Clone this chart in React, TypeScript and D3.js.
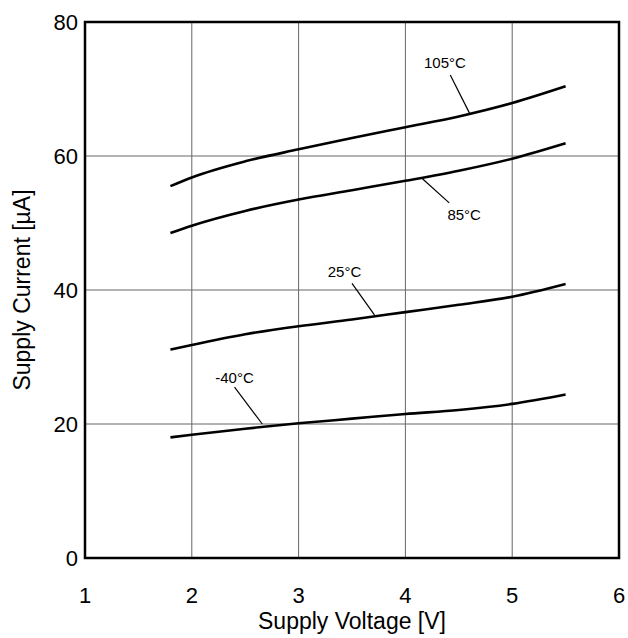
import React from "react";
import * as d3 from "d3";

const voltages = [1.8, 2, 2.5, 3, 3.5, 4, 4.5, 5, 5.5];
const series105 = [55.5, 56.8, 59.2, 61.0, 62.7, 64.3, 65.9, 67.9, 70.4];
const series85 = [48.5, 49.6, 51.8, 53.5, 54.9, 56.3, 57.8, 59.6, 61.9];
const series25 = [31.1, 31.8, 33.4, 34.6, 35.6, 36.7, 37.8, 39.0, 40.9];
const seriesM40 = [18.0, 18.4, 19.3, 20.1, 20.8, 21.5, 22.1, 23.0, 24.4];
const seriesNames = ["105°C", "85°C", "25°C", "-40°C"];
const xTicks = [1, 2, 3, 4, 5, 6];
const yTicks = [0, 20, 40, 60, 80];
// annotation: label at (lx, ly), leader from (ax1, ay1) to (ax2, ay2), in data units
const annotations = [
  { name: "105°C", lx: 4.37, ly: 73.9, ax1: 4.42, ay1: 72.1, ax2: 4.6, ay2: 66.4 },
  { name: "85°C", lx: 4.55, ly: 51.2, ax1: 4.16, ay1: 56.6, ax2: 4.41, ay2: 53.0 },
  { name: "25°C", lx: 3.43, ly: 42.7, ax1: 3.5, ay1: 41.0, ax2: 3.71, ay2: 36.3 },
  { name: "-40°C", lx: 2.4, ly: 26.9, ax1: 2.4, ay1: 25.5, ax2: 2.66, ay2: 20.0 },
];

const W = 628, H = 638;
const L = 85, R = 619, T = 22, B = 558;

export default function App() {
  const x = d3.scaleLinear().domain([1, 6]).range([L, R]);
  const y = d3.scaleLinear().domain([0, 80]).range([B, T]);
  const allSeries = [series105, series85, series25, seriesM40];
  const line = d3
    .line<number>()
    .x((_, i) => x(voltages[i]))
    .y((d) => y(d))
    .curve(d3.curveMonotoneX);
  const font = "'Liberation Sans', Arial, Helvetica, sans-serif";
  return (
    <svg
      width={W}
      height={H}
      style={{ position: "absolute", left: 0, top: 0, background: "#fff" }}
      fontFamily={font}
    >
      <rect x={0} y={0} width={W} height={H} fill="#fff" />
      {xTicks.slice(1, -1).map((t) => (
        <line key={"gx" + t} x1={x(t)} x2={x(t)} y1={T} y2={B} stroke="#666" strokeWidth={1} />
      ))}
      {yTicks.slice(1, -1).map((t) => (
        <line key={"gy" + t} x1={L} x2={R} y1={y(t)} y2={y(t)} stroke="#666" strokeWidth={1} />
      ))}
      {allSeries.map((s, i) => (
        <path key={seriesNames[i]} d={line(s) || ""} fill="none" stroke="#000" strokeWidth={2.6} />
      ))}
      {annotations.map((a) => (
        <g key={a.name}>
          <line x1={x(a.ax1)} y1={y(a.ay1)} x2={x(a.ax2)} y2={y(a.ay2)} stroke="#000" strokeWidth={1.2} />
          <text x={x(a.lx)} y={y(a.ly)} fontSize={15} textAnchor="middle" dominantBaseline="central">
            {a.name}
          </text>
        </g>
      ))}
      <rect x={L} y={T} width={R - L} height={B - T} fill="none" stroke="#000" strokeWidth={2.5} />
      {xTicks.map((t) => (
        <text key={"xt" + t} x={x(t)} y={595} fontSize={22} textAnchor="middle" dominantBaseline="central">
          {t}
        </text>
      ))}
      {yTicks.map((t) => (
        <text key={"yt" + t} x={78} y={y(t)} fontSize={22} textAnchor="end" dominantBaseline="central">
          {t}
        </text>
      ))}
      <text x={352} y={621} fontSize={23} textAnchor="middle" dominantBaseline="central">
        Supply Voltage [V]
      </text>
      <text
        transform={`translate(22,290) rotate(-90)`}
        fontSize={23}
        textAnchor="middle"
        dominantBaseline="central"
      >
        Supply Current [µA]
      </text>
    </svg>
  );
}
